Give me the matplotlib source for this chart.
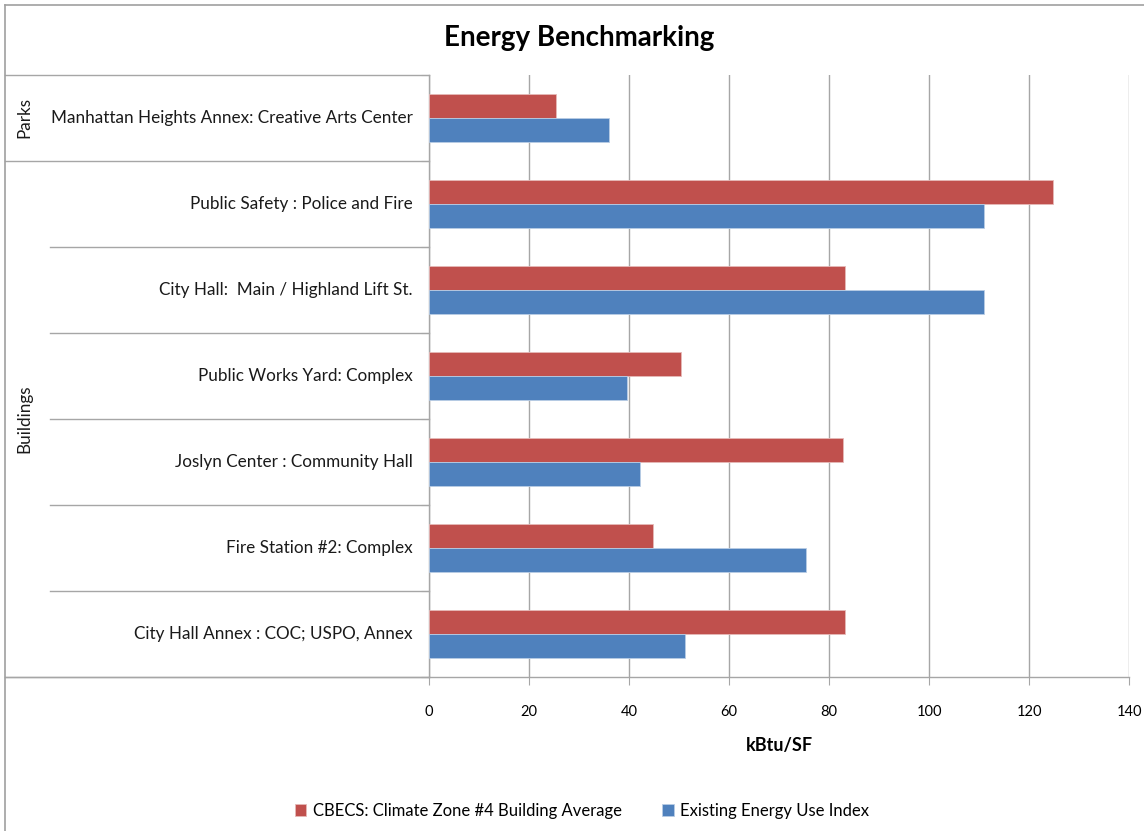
import matplotlib
matplotlib.use("Agg")
import matplotlib.pyplot as plt
from matplotlib.lines import Line2D
import numpy as np

plt.rcParams['font.family'] = ['Lato', 'DejaVu Sans']

categories = [
    "Manhattan Heights Annex: Creative Arts Center",
    "Public Safety : Police and Fire",
    "City Hall:  Main / Highland Lift St.",
    "Public Works Yard: Complex",
    "Joslyn Center : Community Hall",
    "Fire Station #2: Complex",
    "City Hall Annex : COC; USPO, Annex",
]
groups = ["Parks", "Buildings"]
group_sizes = [1, 6]
cbecs = [25.4, 124.7, 83.1, 50.3, 82.8, 44.8, 83.1]
eui = [36.0, 110.9, 110.9, 39.5, 42.2, 75.3, 51.1]
series_names = ["CBECS: Climate Zone #4 Building Average", "Existing Energy Use Index"]
xticks = [0, 20, 40, 60, 80, 100, 120, 140]

RED = "#C0504D"
BLUE = "#4F81BD"
GRID = "#A6A6A6"

W, H = 1144, 831
fig = plt.figure(figsize=(W / 100, H / 100), dpi=100)

def fx(px):
    return px / W

def fy(py):
    return 1 - py / H

x0, x1, y0, y1 = 429, 1129, 75, 677
ax = fig.add_axes([fx(x0), fy(y1), fx(x1) - fx(x0), fy(y0) - fy(y1)])

n = len(categories)
pos = np.arange(n)
h = 0.28
ax.barh(pos - h / 2, cbecs, height=h, color=RED, edgecolor="#E6B9B8", linewidth=0.6, label=series_names[0], zorder=3)
ax.barh(pos + h / 2, eui, height=h, color=BLUE, edgecolor="#B9CDE5", linewidth=0.6, label=series_names[1], zorder=3)

ax.set_xlim(0, 140)
ax.set_ylim(n - 0.5, -0.5)
ax.set_xticks(xticks)
ax.set_xticklabels([str(t) for t in xticks], fontsize=10.5)
ax.set_yticks(np.arange(n + 1) - 0.5)
ax.set_yticklabels([])
ax.tick_params(axis='x', direction='out', length=6, color=GRID, pad=14)
ax.tick_params(axis='y', direction='out', length=6, color=GRID)
ax.grid(axis='x', color=GRID, linewidth=1.0, zorder=0)
for s in ["top", "right"]:
    ax.spines[s].set_visible(False)
ax.spines["left"].set_color(GRID)
ax.spines["bottom"].set_color(GRID)
ax.spines["left"].set_linewidth(1.0)
ax.spines["bottom"].set_linewidth(1.0)
ax.set_xlabel("kBtu/SF", fontsize=13, fontweight="bold", labelpad=13)

# category labels
band = (y1 - y0) / n
for i, c in enumerate(categories):
    yc = y0 + band * (i + 0.5)
    fig.text(fx(413), fy(yc), c, ha="right", va="center", fontsize=12.3, color="#1a1a1a")

# multi-level axis lines
line_kw = dict(color=GRID, linewidth=1.0, transform=fig.transFigure)
fig.add_artist(Line2D([fx(5), fx(x0)], [fy(y0), fy(y0)], **line_kw))
start = 0
for g, size in zip(groups, group_sizes):
    gy0 = y0 + band * start
    gy1 = y0 + band * (start + size)
    for k in range(1, size):
        yy = y0 + band * (start + k)
        fig.add_artist(Line2D([fx(50), fx(x0)], [fy(yy), fy(yy)], **line_kw))
    fig.add_artist(Line2D([fx(5), fx(x0)], [fy(gy1), fy(gy1)], **line_kw))
    fig.text(fx(24), fy((gy0 + gy1) / 2), g, rotation=90, ha="center", va="center", fontsize=12.3, color="#1a1a1a")
    start += size
fig.add_artist(Line2D([fx(5), fx(x0)], [fy(y1), fy(y1)], **line_kw))

# chart border
fig.add_artist(Line2D([fx(5), fx(5)], [fy(5), 0], color="#A0A0A0", linewidth=1.2, transform=fig.transFigure))
fig.add_artist(Line2D([fx(5), 1], [fy(5), fy(5)], color="#A0A0A0", linewidth=1.2, transform=fig.transFigure))

fig.text(fx(579), fy(38), "Energy Benchmarking", ha="center", va="center", fontsize=20, fontweight="bold", color="black")

handles, labels = ax.get_legend_handles_labels()
leg = fig.legend(handles, labels, loc="center", bbox_to_anchor=(fx(582), fy(811)), ncol=2, frameon=False,
                 fontsize=12, handlelength=0.7, handleheight=0.7, handletextpad=0.4, columnspacing=2.4)

fig.savefig("out.png", dpi=100, facecolor="white")
